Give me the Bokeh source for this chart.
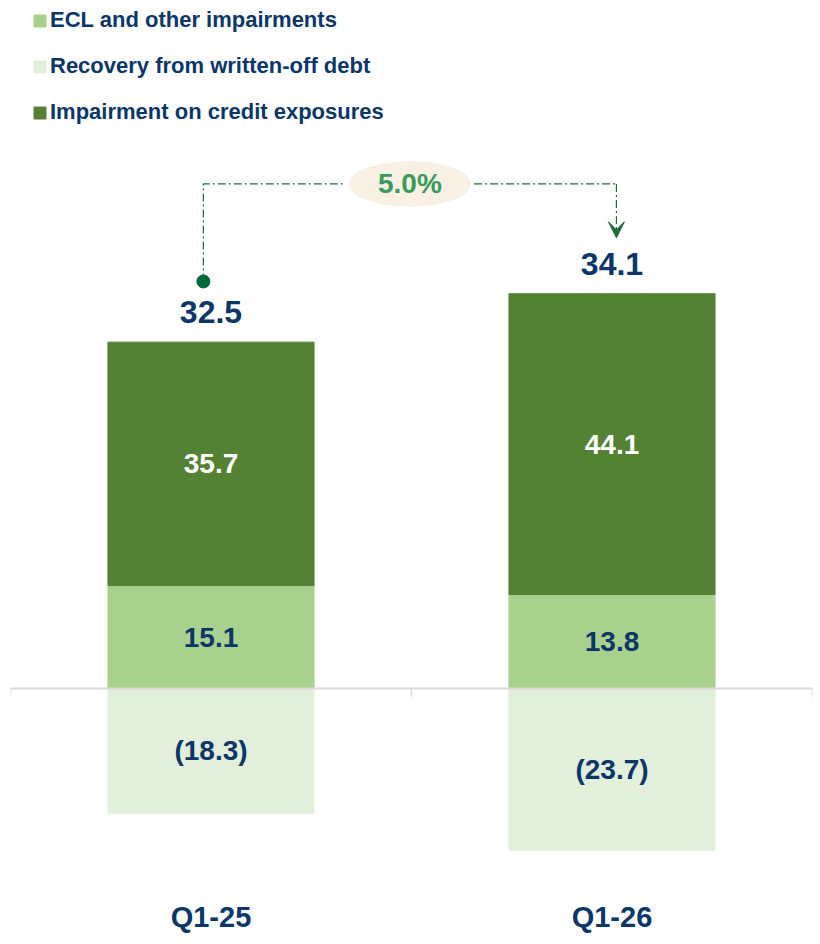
from bokeh.plotting import figure
from bokeh.models import (ColumnDataSource, Legend, LegendItem, Arrow, VeeHead,
                          FactorRange, Range1d)
from bokeh.core.properties import value
from bokeh.embed import file_html
from bokeh.resources import INLINE

# ---- data ----
quarters = ["Q1-25", "Q1-26"]
ecl = [15.1, 13.8]
recovery = [-18.3, -23.7]
impairment = [35.7, 44.1]
totals = [32.5, 34.1]
change_label = "5.0%"

# ---- styles ----
FONT = "Liberation Sans"
NAVY = "#0b3668"
C_ECL = "#a9d18e"
C_REC = "#e2efda"
C_IMP = "#548235"
C_ARROW = "#1e6b3c"
C_PCT = "#3a9a5e"
C_ELL = "#f8f0e2"

imp_bottom = ecl
imp_top = [a + b for a, b in zip(ecl, impairment)]
src = ColumnDataSource(dict(
    q=quarters, ecl=ecl, rec=recovery, imp_top=imp_top, imp_bottom=imp_bottom,
    zero=[0, 0],
    ecl_mid=[v / 2 for v in ecl],
    rec_mid=[v / 2 for v in recovery],
    imp_mid=[(a + b) / 2 for a, b in zip(imp_bottom, imp_top)],
    ecl_lbl=[f"{v:.1f}" for v in ecl],
    rec_lbl=[f"({abs(v):.1f})" for v in recovery],
    imp_lbl=[f"{v:.1f}" for v in impairment],
    tot_lbl=[f"{v:.1f}" for v in totals],
))

p = figure(width=816, height=940, x_range=FactorRange(*quarters, range_padding=0),
           y_range=Range1d(-28.15, 100.9), output_backend="svg", toolbar_location=None,
           y_axis_location=None, min_border_left=10, min_border_right=4,
           min_border_top=0, min_border_bottom=60)
p.outline_line_color = None
p.grid.visible = False
p.background_fill_color = "white"
p.border_fill_color = "white"

BW = 0.514
r_ecl = p.vbar(x="q", top="ecl", bottom="zero", width=BW, color=C_ECL, source=src)
r_rec = p.vbar(x="q", top="zero", bottom="rec", width=BW, color=C_REC, source=src)
r_imp = p.vbar(x="q", top="imp_top", bottom="imp_bottom", width=BW, color=C_IMP, source=src)

# zero axis line with boundary ticks
p.segment(x0=[0], y0=[0], x1=[2], y1=[0], line_color="#d9d9d9", line_width=2)
p.segment(x0=[0, 1, 2], y0=[0, 0, 0], x1=[0, 1, 2], y1=[-1.2, -1.2, -1.2],
          line_color="#d9d9d9", line_width=1.5)

lbl_kw = dict(text_font=value(FONT), text_font_style="bold", text_align="center",
              text_baseline="middle", source=src)
p.text(x="q", y="ecl_mid", text="ecl_lbl", text_color=NAVY, text_font_size="28px", **lbl_kw)
p.text(x="q", y="rec_mid", text="rec_lbl", text_color=NAVY, text_font_size="28px", **lbl_kw)
p.text(x="q", y="imp_mid", text="imp_lbl", text_color="white", text_font_size="28px", **lbl_kw)
p.text(x="q", y="imp_top", text="tot_lbl", text_color=NAVY, text_font_size="32px",
       text_font=value(FONT), text_font_style="bold", text_align="center",
       text_baseline="bottom", y_offset=-19, source=src)

# change annotation
x_a, x_b = 0.481, 1.511
y_dot = imp_top[0] + 8.9
y_line = max(imp_top) + 16.1
y_tip = imp_top[1] + 8.2
x_mid = (x_a + x_b) / 2
dash = "8 3 2 3"
p.line(x=[x_a, x_a, x_mid - 0.16], y=[y_dot, y_line, y_line], line_color=C_ARROW,
       line_width=1.2, line_dash=dash)
p.line(x=[x_mid + 0.16, x_b], y=[y_line, y_line], line_color=C_ARROW,
       line_width=1.2, line_dash=dash)
p.add_layout(Arrow(x_start=x_b, y_start=y_line, x_end=x_b, y_end=y_tip,
                   line_color=C_ARROW, line_width=1.2, line_dash=dash,
                   end=VeeHead(size=16, fill_color=C_ARROW, line_color=C_ARROW)))
p.scatter(x=[x_a], y=[y_dot], size=13, color="#006837")
p.ellipse(x=[x_mid], y=[y_line], width=0.304, height=6.7, fill_color=C_ELL, line_color=None)
p.text(x=[x_mid], y=[y_line], text=[change_label], text_color=C_PCT, text_font=value(FONT),
       text_font_style="bold", text_font_size="28px", text_align="center",
       text_baseline="middle")

# x axis labels
ax = p.xaxis[0]
ax.axis_line_color = None
ax.major_tick_line_color = None
ax.major_tick_out = 0
ax.major_label_standoff = 20
ax.major_label_text_font = FONT
ax.major_label_text_font_style = "bold"
ax.major_label_text_font_size = "29px"
ax.major_label_text_color = NAVY

legend = Legend(items=[
    LegendItem(label="ECL and other impairments", renderers=[r_ecl]),
    LegendItem(label="Recovery from written-off debt", renderers=[r_rec]),
    LegendItem(label="Impairment on credit exposures", renderers=[r_imp]),
], location=(22, 755), orientation="vertical", glyph_width=15, glyph_height=15,
    label_height=20, spacing=20, label_standoff=3, padding=0, margin=0,
    label_text_font=FONT, label_text_font_style="bold", label_text_font_size="22px",
    label_text_color=NAVY, border_line_color=None, background_fill_alpha=0)
p.add_layout(legend, "center")

open("out.html", "w").write(file_html(p, INLINE))
